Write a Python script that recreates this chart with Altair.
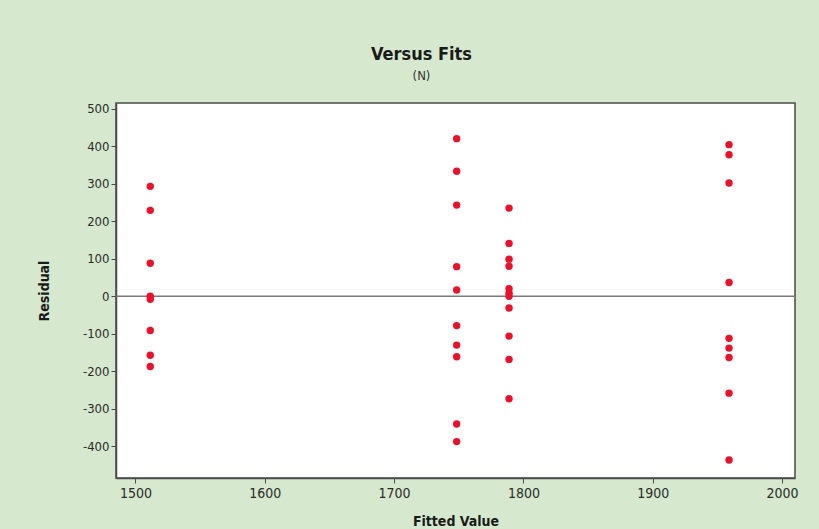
import altair as alt
import pandas as pd

# Fitted values (x) and residuals (y)
fit_1 = 1511.5
res_1 = [293, 229, 88, 0, -8, -91, -157, -187]
fit_2 = 1748.4
res_2 = [420, 333, 243, 79, 17, -78, -130, -161, -340, -387]
fit_3 = 1788.9
res_3 = [235, 141, 99, 80, 20, 8, 0, -31, -106, -168, -273]
fit_4 = 1959.0
res_4 = [404, 377, 302, 37, -112, -138, -163, -258, -436]

x_ticks = [1500, 1600, 1700, 1800, 1900, 2000]
y_ticks = [-400, -300, -200, -100, 0, 100, 200, 300, 400, 500]

rows = []
for f, rs in [(fit_1, res_1), (fit_2, res_2), (fit_3, res_3), (fit_4, res_4)]:
    for r in rs:
        rows.append({"fit": f, "res": r})
df = pd.DataFrame(rows)
zero = pd.DataFrame({"y": [0]})

FONT = "DejaVu Sans Condensed, DejaVu Sans"

xscale = alt.Scale(domain=[1485, 2010], nice=False, zero=False)
yscale = alt.Scale(domain=[-484, 515], nice=False, zero=False)

points = alt.Chart(df).mark_circle(size=55, color="#e8132b", opacity=1).encode(
    x=alt.X("fit:Q", scale=xscale,
            axis=alt.Axis(values=x_ticks, title="Fitted Value", grid=False,
                          labelExpr="'' + datum.value", labelFontSize=14,
                          tickSize=5, labelPadding=3, titlePadding=14)),
    y=alt.Y("res:Q", scale=yscale,
            axis=alt.Axis(values=y_ticks, title="Residual", grid=False,
                          labelExpr="'' + datum.value",
                          tickSize=5, labelPadding=2, titlePadding=31)),
)

rule = alt.Chart(zero).mark_rule(color="#7a7a7a", strokeWidth=1.5).encode(
    y=alt.Y("y:Q", scale=yscale)
)

chart = (rule + points).properties(
    width=679,
    height=375,
    autosize=alt.AutoSizeParams(type="none"),
    padding={"left": 116, "top": 103, "right": 24, "bottom": 51},
    background="#d6e9cf",
    title=alt.TitleParams(
        text="Versus Fits",
        subtitle="(N)",
        font=FONT,
        fontSize=18,
        fontWeight="bold",
        color="#1a1a1a",
        subtitleFont=FONT,
        subtitleFontSize=13,
        subtitleColor="#333333",
        subtitlePadding=6,
        anchor="middle",
        dx=-34,
        offset=20,
    ),
).configure_view(
    fill="white", stroke="#4a4a4a", strokeWidth=1.5
).configure_axis(
    labelFont=FONT, titleFont=FONT, labelFontSize=13, titleFontSize=14,
    labelColor="#2a2a2a", titleColor="#1a1a1a", titleFontWeight="bold",
    tickColor="#4a4a4a", domainColor="#4a4a4a", domainWidth=1.5,
)

chart.save("out.html", embed_options={"renderer": "svg", "actions": False})
